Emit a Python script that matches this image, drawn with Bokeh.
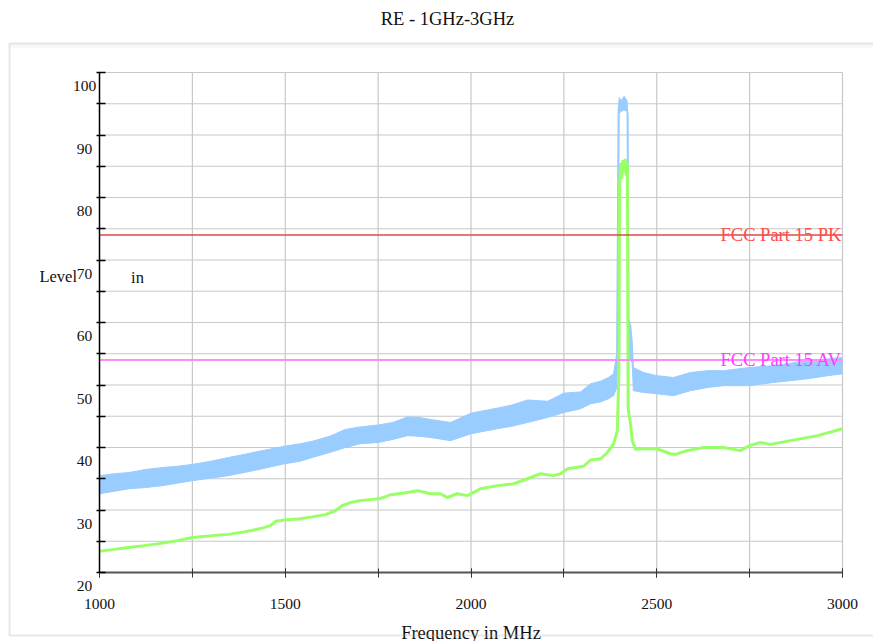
from bokeh.plotting import figure
from bokeh.models import (FixedTicker, LabelSet, Label, ColumnDataSource,
                          BoxAnnotation, Range1d)
from bokeh.core.properties import value
from bokeh.embed import file_html
from bokeh.resources import INLINE

# ---------------- data ----------------
blue_freq = [1000, 1040, 1080, 1125, 1170, 1210, 1250, 1300, 1347, 1390,
             1438, 1498, 1540, 1573, 1620, 1662, 1702, 1750, 1790, 1829,
             1860, 1891, 1945, 2000, 2035, 2071, 2110, 2152, 2206, 2250,
             2295, 2322, 2349, 2370, 2384, 2392, 2396, 2399, 2405, 2412,
             2420, 2423, 2425, 2430, 2434, 2437, 2464, 2500, 2545, 2591,
             2637, 2680, 2750, 2814, 2860, 2906, 2950, 3000]
blue_low = [32.6, 33.0, 33.4, 33.6, 33.9, 34.3, 34.7, 35.1, 35.5, 36.0,
            36.6, 37.4, 37.8, 38.4, 39.2, 40.0, 40.6, 40.8, 41.3, 41.9,
            41.8, 41.6, 41.1, 42.2, 42.6, 43.0, 43.4, 44.0, 44.8, 45.6,
            46.2, 47.0, 47.3, 47.8, 48.3, 49.5, 56.0, 93.5, 93.8, 94.0,
            93.8, 60.0, 54.5, 54.0, 53.5, 49.1, 48.8, 48.6, 48.3, 49.1,
            49.6, 49.9, 49.9, 50.4, 50.7, 51.0, 51.4, 51.8]
blue_high = [35.5, 35.8, 36.0, 36.5, 36.8, 37.0, 37.3, 37.8, 38.4, 38.9,
             39.5, 40.2, 40.6, 41.0, 41.8, 42.9, 43.3, 43.6, 44.0, 44.9,
             44.8, 44.5, 44.0, 45.5, 45.9, 46.3, 46.8, 47.6, 47.4, 48.7,
             48.9, 50.2, 50.6, 51.2, 51.8, 55.0, 94.0, 96.0, 95.5, 96.2,
             95.5, 93.0, 60.5, 59.5, 57.0, 52.8, 52.0, 51.5, 51.2, 52.0,
             52.3, 52.3, 52.8, 53.1, 53.5, 53.9, 54.1, 54.4]

green_freq = [1000, 1040, 1078, 1120, 1170, 1210, 1250, 1304, 1347, 1390,
              1438, 1460, 1475, 1498, 1540, 1573, 1610, 1635, 1653, 1676,
              1702, 1750, 1765, 1780, 1829, 1856, 1891, 1918, 1936, 1963,
              1990, 2010, 2025, 2071, 2115, 2152, 2187, 2222, 2241, 2260,
              2303, 2322, 2349, 2367, 2384, 2394, 2398, 2400, 2403, 2406,
              2409, 2412, 2415, 2418, 2421, 2423, 2426, 2430, 2434, 2443,
              2464, 2500, 2537, 2551, 2581, 2627, 2680, 2725, 2750, 2779,
              2806, 2860, 2933, 3000]
green_level = [23.4, 23.7, 24.0, 24.3, 24.7, 25.1, 25.6, 25.9, 26.1, 26.5,
               27.1, 27.5, 28.2, 28.4, 28.6, 28.9, 29.3, 29.9, 30.7, 31.2,
               31.5, 31.8, 32.0, 32.4, 32.8, 33.1, 32.6, 32.6, 32.0, 32.6,
               32.3, 32.9, 33.4, 33.9, 34.2, 35.0, 35.8, 35.5, 35.8, 36.6,
               37.0, 38.0, 38.2, 39.2, 40.6, 42.7, 52.0, 82.0, 85.5, 83.0,
               86.0, 84.0, 86.2, 83.5, 85.5, 46.4, 45.0, 43.5, 41.1, 39.7,
               39.8, 39.8, 39.0, 38.9, 39.5, 40.0, 40.0, 39.5, 40.3, 40.8,
               40.5, 41.1, 41.9, 43.0]

limit_freq = [1000, 3000]
pk_limit = [74, 74]
av_limit = [54, 54]

x_label_ticks = [1000, 1500, 2000, 2500, 3000]
x_grid_ticks = [1000, 1250, 1500, 1750, 2000, 2250, 2500, 2750, 3000]
y_label_ticks = [20, 30, 40, 50, 60, 70, 80, 90, 100]
y_grid_ticks = [20, 25, 30, 35, 40, 45, 50, 55, 60, 65, 70, 75, 80, 85, 90, 95, 100]

title_text = "RE - 1GHz-3GHz"
x_title = "Frequency in MHz"
y_title_a = "Level"
y_title_b = "in"
pk_name = "FCC Part 15 PK"
av_name = "FCC Part 15 AV"

# ---------------- layout (pixels of the 873x641 page) ----------------
W, H = 873, 641
PL, PR, PT, PB = 99, 842, 72, 572          # plot area edges
X0, X1 = x_grid_ticks[0], x_grid_ticks[-1]
Y0, Y1 = y_grid_ticks[0], y_grid_ticks[-1]
SX = (X1 - X0) / (PR - PL)                  # MHz per px
SY = (Y1 - Y0) / (PB - PT)                  # dB per px


def px2x(px):
    return X0 + (px - PL) * SX


def py2y(py):
    return Y1 - (py - PT) * SY


FONT = "Liberation Serif"
GRID = "#c8c8c8"
BLUE = "#99ccff"
GREEN = "#99ff66"
INK = "#111111"

p = figure(width=W, height=H,
           x_range=Range1d(px2x(0), px2x(W)), y_range=Range1d(py2y(H), py2y(0)),
           output_backend="svg", toolbar_location=None,
           min_border_left=0, min_border_right=0,
           min_border_top=0, min_border_bottom=0)
p.background_fill_color = "white"
p.border_fill_color = "white"
p.outline_line_color = None
p.xgrid.visible = False
p.ygrid.visible = False

# outer panel
p.add_layout(BoxAnnotation(left=px2x(9), right=px2x(W + 20), top=py2y(43),
                           bottom=py2y(47.5), fill_color="#eeeeee",
                           line_color=None, level="underlay"))
p.add_layout(BoxAnnotation(left=px2x(9), right=px2x(W + 20), top=py2y(43),
                           bottom=py2y(635), fill_color=None,
                           line_color="#b4b4b4", line_width=2,
                           level="overlay"))

# grid lines over the plot area
p.segment(x0=x_grid_ticks, y0=Y0, x1=x_grid_ticks, y1=Y1,
          line_color=GRID, line_width=1.2)
p.segment(x0=X0, y0=y_grid_ticks, x1=X1, y1=y_grid_ticks,
          line_color=GRID, line_width=1.2)

# x axis
p.xaxis.fixed_location = Y0
p.xaxis.bounds = (X0, X1)
p.xaxis.ticker = FixedTicker(ticks=x_label_ticks, minor_ticks=x_grid_ticks)
p.xaxis.axis_line_color = "#555555"
p.xaxis.axis_line_width = 2
p.xaxis.major_tick_line_color = "#333333"
p.xaxis.minor_tick_line_color = "#333333"
p.xaxis.major_tick_in = 4
p.xaxis.major_tick_out = 5
p.xaxis.minor_tick_in = 4
p.xaxis.minor_tick_out = 5
p.xaxis.major_label_standoff = 21
p.xaxis.major_label_text_font = FONT
p.xaxis.major_label_text_font_size = "15.5px"
p.xaxis.major_label_text_color = INK

# y axis (tick marks; labels are set slightly below their ticks)
p.yaxis.fixed_location = X0
p.yaxis.bounds = (Y0, Y1)
p.yaxis.ticker = FixedTicker(ticks=[], minor_ticks=y_grid_ticks)
p.yaxis.axis_line_color = "black"
p.yaxis.axis_line_width = 1.5
p.yaxis.minor_tick_line_color = "black"
p.yaxis.minor_tick_line_width = 1.5
p.yaxis.minor_tick_in = 6
p.yaxis.minor_tick_out = 3

ysrc = ColumnDataSource(dict(y=y_label_ticks, t=[str(v) for v in y_label_ticks]))
p.add_layout(LabelSet(x=X0, y="y", text="t", source=ysrc,
                      x_offset=84 - PL, y_offset=-13.5,
                      text_align="center", text_baseline="middle",
                      text_font=value(FONT), text_font_size="15.5px",
                      text_color=INK))

# traces
p.varea(x=blue_freq, y1=blue_low, y2=blue_high, fill_color=BLUE)
p.line(blue_freq, blue_high, line_color=BLUE, line_width=1)
p.line(blue_freq, blue_low, line_color=BLUE, line_width=1)
p.line(green_freq, green_level, line_color=GREEN, line_width=3)

# limits
p.line(limit_freq, pk_limit, line_color="#e04848", line_width=1.3)
p.line(limit_freq, av_limit, line_color="#ff8cff", line_width=2)
p.text(x=[px2x(720)], y=[pk_limit[0]], text=[pk_name], text_color="#ff4c4c",
       text_font=value(FONT), text_font_size="18.5px",
       text_align="left", text_baseline="middle")
p.text(x=[px2x(720)], y=[av_limit[0]], text=[av_name], text_color="#ff3cff",
       text_font=value(FONT), text_font_size="18.5px",
       text_align="left", text_baseline="middle")

# titles
p.add_layout(Label(x=px2x(447), y=py2y(18), text=title_text, text_align="center",
                   text_baseline="middle", text_font=FONT,
                   text_font_size="18.5px", text_color=INK))
p.add_layout(Label(x=px2x(470.5), y=py2y(632), text=x_title, text_align="center",
                   text_baseline="alphabetic", text_font=FONT,
                   text_font_size="18.5px", text_color=INK))
p.add_layout(Label(x=px2x(76.5), y=py2y(276), text=y_title_a, text_align="right",
                   text_baseline="middle", text_font=FONT,
                   text_font_size="16.5px", text_color=INK))
p.add_layout(Label(x=px2x(137), y=py2y(277), text=y_title_b, text_align="center",
                   text_baseline="middle", text_font=FONT,
                   text_font_size="16.5px", text_color=INK))

open("out.html", "w").write(file_html(p, INLINE))
